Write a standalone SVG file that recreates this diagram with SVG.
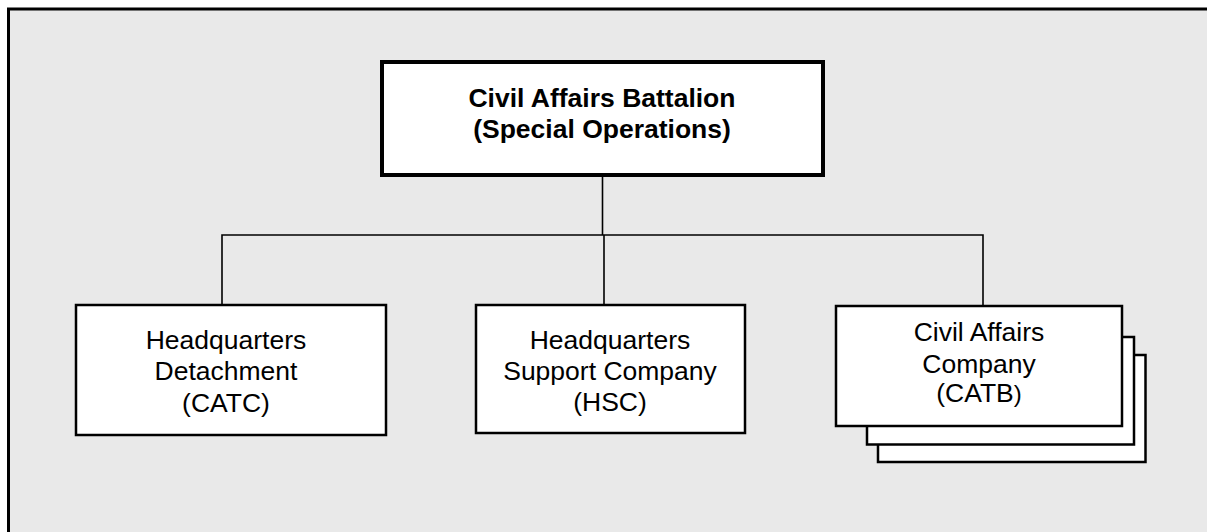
<svg xmlns="http://www.w3.org/2000/svg" width="1207" height="532" viewBox="0 0 1207 532">
  <style>
    .frame { fill: #e9e9e9; stroke: #000; stroke-width: 3; }
    .box { fill: #fff; stroke: #000; stroke-width: 2.5; }
    .box-main { fill: #fff; stroke: #000; stroke-width: 4; }
    .wire { fill: none; stroke: #000; stroke-width: 1.6; }
    .label { font-family: "Liberation Sans", Arial, sans-serif; font-size: 26.5px; fill: #000; text-anchor: middle; }
    .bold { font-weight: bold; }
  </style>

  <!-- background panel -->
  <rect class="frame" x="8.5" y="9" width="1230" height="560"/>

  <!-- connectors -->
  <g id="connectors">
    <path class="wire" d="M602.5 177 V235"/>
    <path class="wire" d="M222 305 V235 H983 V306"/>
    <path class="wire" d="M604 235 V305"/>
  </g>

  <!-- battalion headquarters -->
  <g id="node-battalion">
    <rect class="box-main" x="382" y="62" width="441" height="113"/>
    <text class="label bold" x="602" y="106.5">Civil Affairs Battalion</text>
    <text class="label bold" x="602" y="137.5">(Special Operations)</text>
  </g>

  <!-- headquarters detachment -->
  <g id="node-hqd">
    <rect class="box" x="76" y="305" width="310" height="130"/>
    <text class="label" x="226" y="348.5">Headquarters</text>
    <text class="label" x="226" y="380">Detachment</text>
    <text class="label" x="226" y="411.5">(CATC)</text>
  </g>

  <!-- headquarters support company -->
  <g id="node-hsc">
    <rect class="box" x="476" y="305" width="269" height="128"/>
    <text class="label" x="610" y="349">Headquarters</text>
    <text class="label" x="610" y="380">Support Company</text>
    <text class="label" x="610" y="411">(HSC)</text>
  </g>

  <!-- civil affairs companies (stacked) -->
  <g id="node-cac">
    <rect class="box" x="878" y="355" width="267.5" height="107"/>
    <rect class="box" x="867" y="337" width="267" height="107.5"/>
    <rect class="box" x="836" y="306" width="286" height="120"/>
    <text class="label" x="979" y="341">Civil Affairs</text>
    <text class="label" x="979" y="372.5">Company</text>
    <text class="label" x="979" y="402">(CATB<tspan font-size="24">)</tspan></text>
  </g>
</svg>
